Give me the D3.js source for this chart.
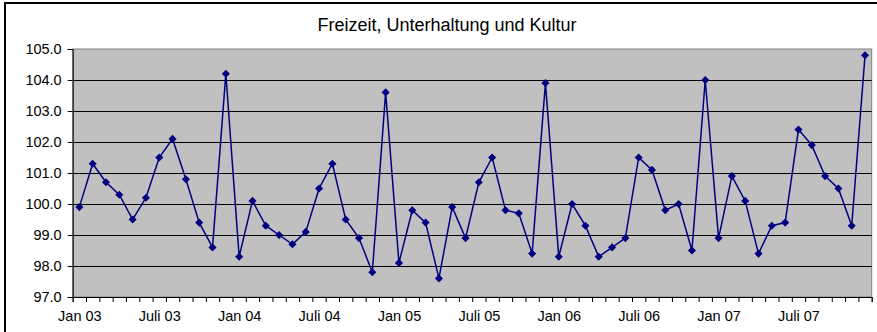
<!DOCTYPE html>
<html>
<head>
<meta charset="utf-8">
<script src="https://cdn.jsdelivr.net/npm/d3@7"></script>
<style>
  html, body { margin: 0; padding: 0; background: #fff; }
  svg { display: block; font-family: "Liberation Sans", Arial, sans-serif; }
</style>
</head>
<body>
<svg id="chart" width="877" height="332"></svg>
<script>
// Monthly index values, Jan 2003 – Dec 2007
const years = ["03", "04", "05", "06", "07"];
const values = [
  99.9, 101.3, 100.7, 100.3, 99.5, 100.2, 101.5, 102.1, 100.8, 99.4, 98.6, 104.2,
  98.3, 100.1, 99.3, 99.0, 98.7, 99.1, 100.5, 101.3, 99.5, 98.9, 97.8, 103.6,
  98.1, 99.8, 99.4, 97.6, 99.9, 98.9, 100.7, 101.5, 99.8, 99.7, 98.4, 103.9,
  98.3, 100.0, 99.3, 98.3, 98.6, 98.9, 101.5, 101.1, 99.8, 100.0, 98.5, 104.0,
  98.9, 100.9, 100.1, 98.4, 99.3, 99.4, 102.4, 101.9, 100.9, 100.5, 99.3, 104.8
];
const yTicks = [97, 98, 99, 100, 101, 102, 103, 104, 105];
const title = "Freizeit, Unterhaltung und Kultur";

// Category labels: "Jan 03", "Juli 03", ... shown every six months
const monthLabels = [];
years.forEach(y => {
  for (let m = 0; m < 12; m++) {
    monthLabels.push(m === 0 ? "Jan " + y : m === 6 ? "Juli " + y : "");
  }
});

const svg = d3.select("#chart");
const plot = { left: 72.7, right: 871.7, top: 49, bottom: 297 };

const x = d3.scaleLinear().domain([0, values.length]).range([plot.left, plot.right]);
const y = d3.scaleLinear().domain([97, 105]).range([plot.bottom, plot.top]);

// Outer chart frame
svg.append("rect")
  .attr("x", 5).attr("y", 3)
  .attr("width", 920).attr("height", 360)
  .attr("fill", "#fff").attr("stroke", "#000").attr("stroke-width", 2);

// Title
svg.append("text")
  .attr("x", 447).attr("y", 31)
  .attr("text-anchor", "middle")
  .attr("font-size", 18)
  .attr("fill", "#000")
  .text(title);

// Plot area background
svg.append("rect")
  .attr("x", plot.left).attr("y", plot.top)
  .attr("width", plot.right - plot.left).attr("height", plot.bottom - plot.top)
  .attr("fill", "#c0c0c0").attr("stroke", "#808080").attr("stroke-width", 1);

// Horizontal gridlines
svg.append("g")
  .selectAll("line")
  .data(yTicks.filter(t => t > 97 && t < 105))
  .join("line")
  .attr("x1", plot.left).attr("x2", plot.right)
  .attr("y1", d => Math.round(y(d)) + 0.5).attr("y2", d => Math.round(y(d)) + 0.5)
  .attr("stroke", "#000").attr("stroke-width", 1);

// Y axis
const yAxis = svg.append("g")
  .attr("transform", `translate(${plot.left},0)`)
  .call(d3.axisLeft(y).tickValues(yTicks).tickSize(5).tickPadding(6).tickFormat(d3.format(".1f")));
yAxis.select(".domain").attr("stroke", "#000");
yAxis.selectAll(".tick line").attr("stroke", "#000");
yAxis.selectAll("text").attr("font-size", 14.5).attr("fill", "#000")
  .attr("font-family", "Liberation Sans, Arial, sans-serif");

// X axis: tick marks between categories
const xTickAxis = svg.append("g")
  .attr("transform", `translate(0,${plot.bottom})`)
  .call(d3.axisBottom(x).tickValues(d3.range(values.length + 1)).tickSize(5).tickFormat(""));
xTickAxis.select(".domain").attr("stroke", "#000");
xTickAxis.selectAll(".tick line").attr("stroke", "#000");

// X axis: category labels centred on their months
const labelIdx = monthLabels.map((l, i) => i).filter(i => monthLabels[i] !== "");
const xLabelAxis = svg.append("g")
  .attr("transform", `translate(0,${plot.bottom})`)
  .call(d3.axisBottom(x).tickValues(labelIdx.map(i => i + 0.5)).tickSize(0).tickPadding(14)
    .tickFormat(v => monthLabels[Math.round(v - 0.5)]));
xLabelAxis.select(".domain").remove();
xLabelAxis.selectAll("text").attr("font-size", 14.5).attr("fill", "#000")
  .attr("font-family", "Liberation Sans, Arial, sans-serif");

// Series line
const line = d3.line()
  .x((d, i) => x(i + 0.5))
  .y(d => y(d));

svg.append("path")
  .datum(values)
  .attr("d", line)
  .attr("fill", "none")
  .attr("stroke", "#000080")
  .attr("stroke-width", 1.5);

// Diamond markers
const diamond = d3.symbol().type(d3.symbolDiamond2).size(42);
svg.append("g")
  .selectAll("path")
  .data(values)
  .join("path")
  .attr("transform", (d, i) => `translate(${x(i + 0.5)},${y(d)})`)
  .attr("d", diamond)
  .attr("fill", "#000080");
</script>
</body>
</html>
